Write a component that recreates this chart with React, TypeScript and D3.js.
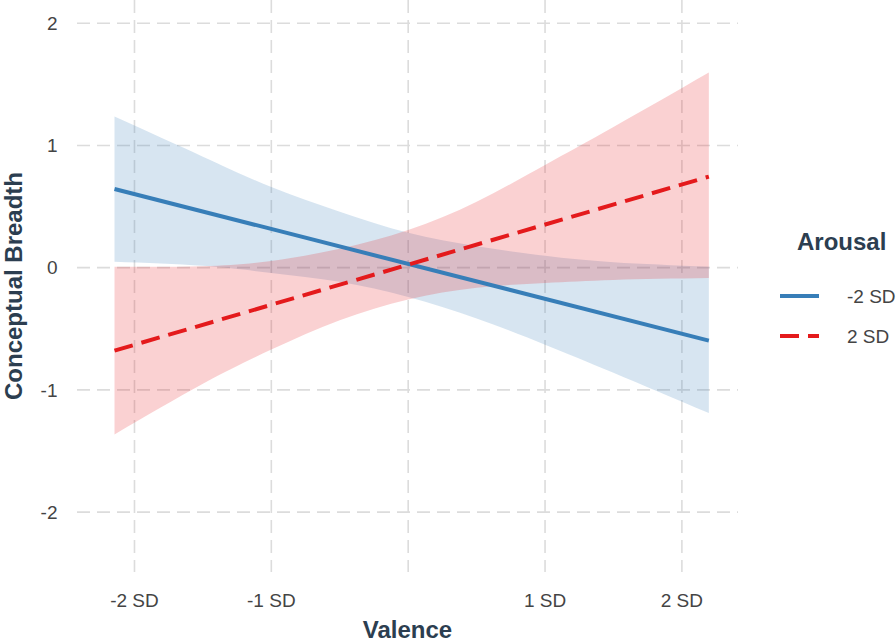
import React from "react";
import * as d3 from "d3";

// ---- Data ----
const bandX = [-2.146, -1.5, -1, -0.5, 0, 0.5, 1, 1.5, 2.197];
const lowArousalUpper = [1.236, 0.908, 0.66, 0.458, 0.286, 0.176, 0.097, 0.045, 0.008];
const lowArousalLower = [0.049, 0.015, -0.043, -0.115, -0.24, -0.415, -0.63, -0.86, -1.19];
const highArousalUpper = [0.008, 0.012, 0.055, 0.155, 0.308, 0.54, 0.84, 1.15, 1.596];
const highArousalLower = [-1.365, -0.95, -0.67, -0.43, -0.26, -0.165, -0.125, -0.1, -0.085];

const lineX = [-2.146, 2.197];
const lowArousalFit = [0.644, -0.597];
const highArousalFit = [-0.679, 0.745];

const xTickValues = [-2, -1, 0, 1, 2];
const xTickLabels = ["-2 SD", "-1 SD", "", "1 SD", "2 SD"];
const yTickValues = [-2, -1, 0, 1, 2];
const legendLabels = ["-2 SD", "2 SD"];

const W = 896;
const H = 644;
const BLUE = "#377EB8";
const RED = "#E41A1C";
const FONT = "'Liberation Sans', Arial, sans-serif";
const TITLE_COLOR = "#2c3e50";
const TICK_COLOR = "#444444";

export default function App() {
  const x = d3.scaleLinear().domain([-2.42, 2.41]).range([77, 738]);
  const y = d3.scaleLinear().domain([-2.49, 2.19]).range([572, 0]);

  const area = (upper: number[], lower: number[]) =>
    d3
      .area<number>()
      .x((_, i) => x(bandX[i]))
      .y0((_, i) => y(lower[i]))
      .y1((_, i) => y(upper[i]))
      .curve(d3.curveNatural)(bandX.map((_, i) => i)) || "";

  const line = (vals: number[]) =>
    d3
      .line<number>()
      .x((_, i) => x(lineX[i]))
      .y((d) => y(d))(vals) || "";

  const gridStyle = { stroke: "#dcdcdc", strokeWidth: 1.6, strokeDasharray: "13 7" };

  return (
    <svg
      width={W}
      height={H}
      style={{ position: "absolute", left: 0, top: 0, background: "#fff" }}
      fontFamily={FONT}
    >
      {/* grid */}
      {yTickValues.map((v) => (
        <line key={"h" + v} x1={77} x2={738} y1={y(v)} y2={y(v)} {...gridStyle} />
      ))}
      {xTickValues.map((v) => (
        <line key={"v" + v} x1={x(v)} x2={x(v)} y1={0} y2={572} {...gridStyle} />
      ))}

      {/* ribbons */}
      <path d={area(lowArousalUpper, lowArousalLower)} fill={BLUE} fillOpacity={0.2} />
      <path d={area(highArousalUpper, highArousalLower)} fill={RED} fillOpacity={0.2} />

      {/* lines */}
      <path d={line(lowArousalFit)} stroke={BLUE} strokeWidth={4} fill="none" />
      <path
        d={line(highArousalFit)}
        stroke={RED}
        strokeWidth={4}
        fill="none"
        strokeDasharray="19 9"
      />

      {/* y tick labels */}
      {yTickValues.map((v) => (
        <text
          key={"yt" + v}
          x={57.5}
          y={y(v)}
          dy="0.35em"
          textAnchor="end"
          fontSize={19}
          fill={TICK_COLOR}
        >
          {v}
        </text>
      ))}

      {/* x tick labels */}
      {xTickValues.map((v, i) => (
        <text
          key={"xt" + v}
          x={x(v)}
          y={607}
          textAnchor="middle"
          fontSize={19}
          fill={TICK_COLOR}
        >
          {xTickLabels[i]}
        </text>
      ))}

      {/* axis titles */}
      <text
        x={407.5}
        y={638}
        textAnchor="middle"
        fontSize={24}
        fontWeight="bold"
        fill={TITLE_COLOR}
      >
        Valence
      </text>
      <text
        transform={`translate(21.5, 286) rotate(-90)`}
        textAnchor="middle"
        fontSize={24}
        fontWeight="bold"
        fill={TITLE_COLOR}
      >
        Conceptual Breadth
      </text>

      {/* legend */}
      <text x={797} y={250} fontSize={24} fontWeight="bold" fill={TITLE_COLOR}>
        Arousal
      </text>
      <line x1={780} x2={819} y1={296} y2={296} stroke={BLUE} strokeWidth={4} />
      <line
        x1={780}
        x2={819}
        y1={336}
        y2={336}
        stroke={RED}
        strokeWidth={4}
        strokeDasharray="19 9"
      />
      {legendLabels.map((l, i) => (
        <text
          key={l}
          x={847}
          y={296 + i * 40}
          dy="0.35em"
          fontSize={19}
          fill={TICK_COLOR}
        >
          {l}
        </text>
      ))}
    </svg>
  );
}
